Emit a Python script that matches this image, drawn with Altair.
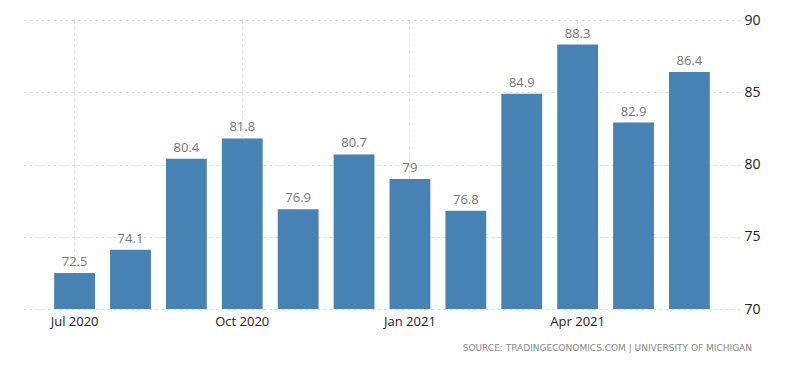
import altair as alt
import pandas as pd

months = ["Jul 2020", "Aug 2020", "Sep 2020", "Oct 2020", "Nov 2020", "Dec 2020",
          "Jan 2021", "Feb 2021", "Mar 2021", "Apr 2021", "May 2021", "Jun 2021"]
values = [72.5, 74.1, 80.4, 81.8, 76.9, 80.7, 79, 76.8, 84.9, 88.3, 82.9, 86.4]
tick_months = ["Jul 2020", "Oct 2020", "Jan 2021", "Apr 2021"]
y_ticks = [70, 75, 80, 85, 90]
source_text = "SOURCE: TRADINGECONOMICS.COM | UNIVERSITY OF MICHIGAN"

df = pd.DataFrame({"month": months, "value": values})

FONT = "Open Sans"

x_enc = alt.X(
    "month:N",
    sort=months,
    title=None,
    scale=alt.Scale(paddingInner=0.27, paddingOuter=0.54),
    axis=alt.Axis(
        values=tick_months,
        labelAngle=0,
        grid=True,
        gridDash=[3, 3],
        gridColor="#e2e2e2",
        ticks=False,
        domain=False,
        labelFontSize=13,
        labelColor="#222222",
        labelFont=FONT,
        labelPadding=6,
        bandPosition=0.5,
    ),
)

y_enc = alt.Y(
    "value:Q",
    title=None,
    scale=alt.Scale(domain=[70, 90], zero=False, nice=False),
    axis=alt.Axis(
        orient="right",
        values=y_ticks,
        grid=True,
        gridDash=[3, 3],
        gridColor="#dddddd",
        ticks=False,
        domain=False,
        labelFontSize=14,
        labelColor="#222222",
        labelFont=FONT,
        labelPadding=4,
    ),
)

bars = alt.Chart(df).mark_bar(color="#4682b4").encode(
    x=x_enc,
    y=y_enc,
    y2=alt.datum(70),
)

labels = alt.Chart(df).mark_text(
    fontSize=13, color="#777777", font=FONT, baseline="alphabetic", dy=-7
).encode(
    x=alt.X("month:N", sort=months),
    y=alt.Y("value:Q"),
    text=alt.Text("value:Q", format="~g"),
)

chart = (
    alt.layer(bars, labels)
    .properties(
        width=716,
        height=289,
        padding={"left": 16, "top": 5, "right": 10, "bottom": 5},
        title=alt.TitleParams(
            text=source_text,
            orient="bottom",
            anchor="end",
            frame="bounds",
            fontSize=9,
            font="DejaVu Sans",
            fontWeight="normal",
            color="#888888",
            offset=16,
            dx=-8,
        ),
    )
    .configure_view(stroke=None)
)

chart.save("out.html", embed_options={"renderer": "svg", "actions": False})
